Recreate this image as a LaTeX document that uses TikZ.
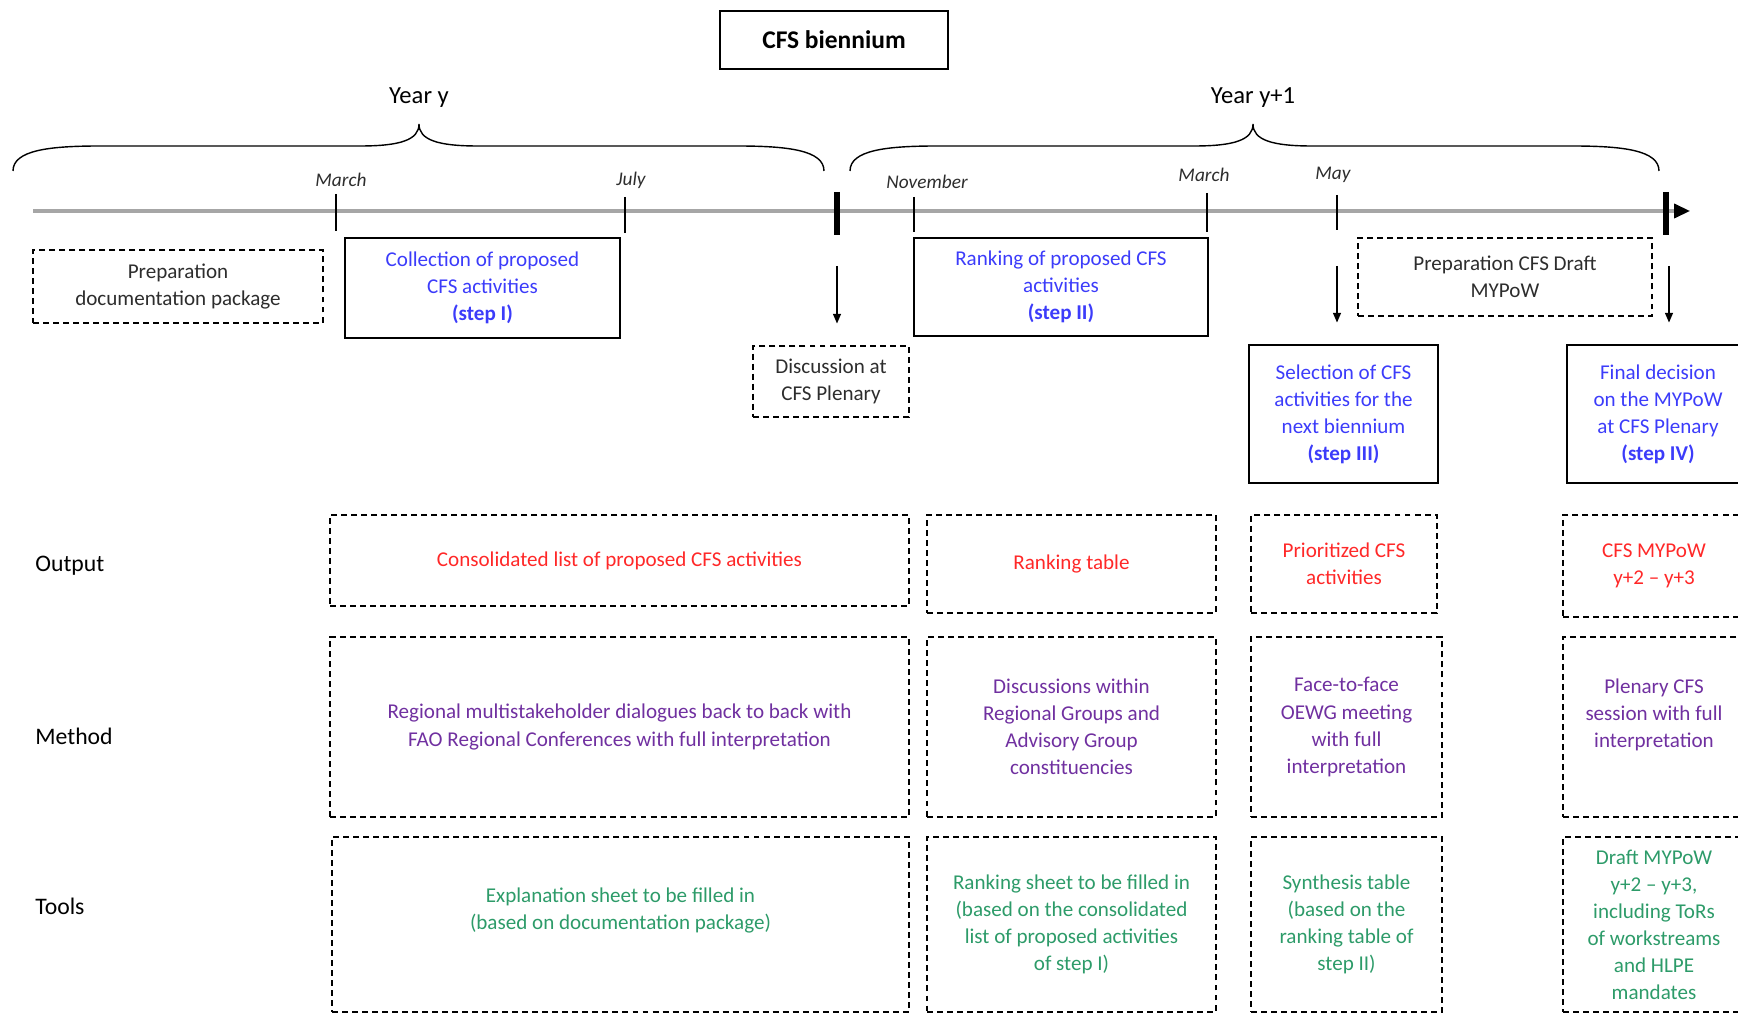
\documentclass[tikz,border=0pt]{standalone}
\usepackage{fontspec}
\setmainfont{Carlito}
\usetikzlibrary{arrows.meta}

\definecolor{stepblue}{RGB}{60,60,250}
\definecolor{outred}{RGB}{255,40,40}
\definecolor{methpurple}{RGB}{112,48,160}
\definecolor{toolgreen}{RGB}{45,155,105}
\definecolor{darktext}{RGB}{45,45,45}

\begin{document}
\begin{tikzpicture}[x=0.02cm,y=-0.02cm,>={Triangle[length=5.5pt,width=4.5pt]}]
      \tikzstyle{txt}=[font=\fontsize{12}{15.4}\selectfont,align=center,inner sep=0pt]
      \tikzstyle{solidbox}=[txt,draw,line width=1.1pt]
      \tikzstyle{dashbox}=[txt,draw,line width=1.1pt,dash pattern=on 3.4pt off 2.3pt]
      \tikzstyle{month}=[font=\fontsize{11}{13}\selectfont\itshape,text=darktext,inner sep=0pt]
      \tikzstyle{yearlabel}=[font=\fontsize{14}{17}\selectfont,inner sep=0pt]
      \tikzstyle{rowlabel}=[font=\fontsize{13.5}{16}\selectfont,anchor=west,inner sep=0pt]
      \tikzstyle{drop}=[->,line width=0.8pt,shorten >=0.43cm]

      \useasboundingbox (0,0) rectangle (1738,1013);

      % title and years
      \node[draw,line width=1.1pt,minimum width=4.56cm,minimum height=1.16cm,
            font=\fontsize{14.5}{17}\selectfont\bfseries] (title) at (834,40) {CFS biennium};
      \node[yearlabel] (yeary) at (419,98) {Year y};
      \node[yearlabel] (yeary1) at (1253,98) {Year y+1};

      \draw[line width=0.8pt] (13,171) .. controls (13,150) and (50,146) .. (100,146) -- (360,146)
            .. controls (400,146) and (419,140) .. (419,124)
            .. controls (419,140) and (438,146) .. (478,146) -- (737,146)
            .. controls (787,146) and (824,150) .. (824,171);
      \draw[line width=0.8pt] (850,171) .. controls (850,150) and (887,146) .. (937,146) -- (1194,146)
            .. controls (1234,146) and (1253,140) .. (1253,124)
            .. controls (1253,140) and (1272,146) .. (1312,146) -- (1572,146)
            .. controls (1622,146) and (1659,150) .. (1659,171);

      % timeline
      \coordinate (tstart) at (33,211);
      \coordinate (tend) at (1690,211);
      \draw[line width=1.8pt,gray!70,-{Triangle[length=9pt,width=8pt,color=black]}] (tstart) -- (tend);
      \foreach \x/\t/\b in {336/194/231, 625/197/233, 914/197/232, 1207/193/232, 1337/195/230}
        \draw[line width=1pt] (\x,\t) -- (\x,\b);
      \foreach \x in {837,1666}
        \draw[line width=3.2pt] (\x,192) -- (\x,235);

      \node[month] (march1) at (341,180) {March};
      \node[month] (july) at (631,180) {July};
      \node[month] (november) at (927,182) {November};
      \node[month] (march2) at (1204,175) {March};
      \node[month] (may) at (1333,175) {May};

      % steps
      \node[dashbox,text=darktext,minimum width=5.8cm,minimum height=1.46cm] (prep) at (178,286.5)
            {Preparation\\documentation package};
      \node[solidbox,text=stepblue,minimum width=5.5cm,minimum height=2cm] (collect) at (482.5,288)
            {Collection of proposed\\CFS activities\\\textbf{(step I)}};
      \node[dashbox,text=darktext,minimum width=3.12cm,minimum height=1.42cm] (disc) at (831,381.5)
            {Discussion at\\CFS Plenary};
      \node[solidbox,text=stepblue,minimum width=5.88cm,minimum height=1.96cm] (rank) at (1061,287)
            {Ranking of proposed CFS\\activities\\\textbf{(step II)}};
      \node[dashbox,text=darktext,minimum width=5.88cm,minimum height=1.56cm] (draft) at (1505,277)
            {Preparation CFS Draft\\MYPoW};
      \node[solidbox,text=stepblue,minimum width=3.78cm,minimum height=2.76cm] (select) at (1343.5,414)
            {Selection of CFS\\activities for the\\next biennium\\\textbf{(step III)}};
      \node[solidbox,text=stepblue,minimum width=3.64cm,minimum height=2.76cm] (final) at (1658,414)
            {Final decision\\on the MYPoW\\at CFS Plenary\\\textbf{(step IV)}};

      \coordinate (drop1) at (837,266);
      \coordinate (drop2) at (1337,266);
      \coordinate (drop3) at (1669,266);
      \draw[drop] (drop1) -- (drop1 |- disc.north);
      \draw[drop] (drop2) -- (drop2 |- select.north);
      \draw[drop] (drop3) -- (drop3 |- final.north);

      % rows
      \node[rowlabel] (output) at (35,566) {Output};
      \node[rowlabel] (method) at (35,736) {Method};
      \node[rowlabel] (tools) at (35,906) {Tools};

      \node[dashbox,text=outred,minimum width=11.58cm,minimum height=1.82cm] (out1) at (619.5,560.5)
            {Consolidated list of proposed CFS activities};
      \node[dashbox,text=outred,minimum width=5.78cm,minimum height=1.96cm] (out2) at (1071.5,564)
            {Ranking table};
      \node[dashbox,text=outred,minimum width=3.72cm,minimum height=1.96cm] (out3) at (1344,564)
            {Prioritized CFS\\activities};
      \node[dashbox,text=outred,minimum width=3.64cm,minimum height=2.04cm] (out4) at (1654,566)
            {CFS MYPoW\\y+2 -- y+3};

      \node[dashbox,text=methpurple,minimum width=11.58cm,minimum height=3.6cm] (meth1) at (619.5,727)
            {Regional multistakeholder dialogues back to back with\\FAO Regional Conferences with full interpretation};
      \node[dashbox,text=methpurple,minimum width=5.78cm,minimum height=3.6cm] (meth2) at (1071.5,727)
            {Discussions within\\Regional Groups and\\Advisory Group\\constituencies};
      \node[dashbox,text=methpurple,minimum width=3.82cm,minimum height=3.6cm] (meth3) at (1346.5,727)
            {Face-to-face\\OEWG meeting\\with full\\interpretation};
      \node[dashbox,text=methpurple,minimum width=3.64cm,minimum height=3.6cm] (meth4) at (1654,727)
            {Plenary CFS\\session with full\\interpretation\\ \mbox{}};

      \node[dashbox,text=toolgreen,minimum width=11.54cm,minimum height=3.5cm] (tool1) at (620.5,924.5)
            {Explanation sheet to be filled in\\(based on documentation package)\\[3pt]};
      \node[dashbox,text=toolgreen,minimum width=5.78cm,minimum height=3.5cm] (tool2) at (1071.5,924.5)
            {Ranking sheet to be filled in\\(based on the consolidated\\list of proposed activities\\of step I)};
      \node[dashbox,text=toolgreen,minimum width=3.82cm,minimum height=3.5cm] (tool3) at (1346.5,924.5)
            {Synthesis table\\(based on the\\ranking table of\\step II)};
      \node[dashbox,text=toolgreen,minimum width=3.64cm,minimum height=3.5cm] (tool4) at (1654,924.5)
            {Draft MYPoW\\y+2 -- y+3,\\including ToRs\\of workstreams\\and HLPE\\mandates};
    \end{tikzpicture}
\end{document}
